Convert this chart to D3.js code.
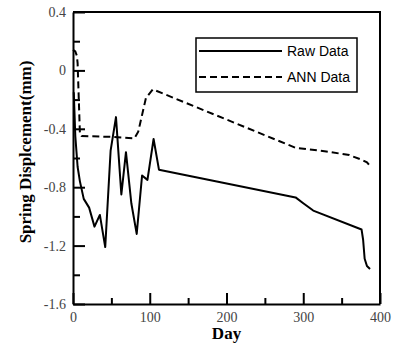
<!DOCTYPE html>
<html><head><meta charset="utf-8">
<script src="https://cdn.jsdelivr.net/npm/d3@7"></script>
<style>body{margin:0;background:#fff}svg{display:block}</style>
</head><body>
<svg id="c" width="397" height="349"></svg>
<script>
const rawDay = [1,3,6,9,14,21,28,35,42,49,56,63,69,76,83,90,97,105,112,290,300,313,376,378,380,383,387];
const rawVal = [-0.15,-0.45,-0.66,-0.76,-0.88,-0.94,-1.07,-0.99,-1.21,-0.55,-0.32,-0.85,-0.56,-0.91,-1.12,-0.72,-0.75,-0.47,-0.68,-0.87,-0.91,-0.96,-1.09,-1.16,-1.29,-1.34,-1.36];
const annDay = [0,3,5,6,9,11,50,80,85,95,104,290,330,360,375,383,387];
const annVal = [0.14,0.13,0.10,0.05,-0.43,-0.45,-0.455,-0.465,-0.42,-0.19,-0.13,-0.53,-0.555,-0.58,-0.61,-0.63,-0.655];
const xMajor = [0,100,200,300,400];
const xMinor = [50,150,250,350];
const yMajor = [0.4,0,-0.4,-0.8,-1.2,-1.6];
const yMinor = [0.2,-0.2,-0.6,-1.0,-1.4];
const yLabels = ["0.4","0","-0.4","-0.8","-1.2","-1.6"];
const seriesNames = ["Raw Data","ANN Data"];

const svg = d3.select("#c");
const L = 73, R = 380, T = 12, B = 304;
const x = d3.scaleLinear().domain([0,400]).range([L,R]);
const y = d3.scaleLinear().domain([-1.6,0.4]).range([B,T]);

// box (top/right)
svg.append("path").attr("d",`M${L},${T}H${R}V${B}`).attr("fill","none").attr("stroke","#000").attr("stroke-width",2);

const tickFont = g => g.selectAll("text").attr("font-family","'Liberation Serif','Times New Roman',serif").attr("font-size",14).attr("fill","#444");

// x axis
const gx = svg.append("g").attr("transform",`translate(0,${B})`)
  .call(d3.axisBottom(x).tickValues(xMajor).tickSize(-11).tickSizeOuter(0).tickPadding(8).tickFormat(d=>String(d)));
gx.call(tickFont);
gx.selectAll("text").attr("dy","0.71em").attr("y",8);
svg.append("g").attr("transform",`translate(0,${B})`)
  .call(d3.axisBottom(x).tickValues(xMinor).tickSize(-6).tickSizeOuter(0).tickFormat(""))
  .call(g=>g.select(".domain").remove());

// y axis
const gy = svg.append("g").attr("transform",`translate(${L},0)`)
  .call(d3.axisLeft(y).tickValues(yMajor).tickSize(-12).tickSizeOuter(0).tickPadding(7).tickFormat((d,i)=>yLabels[i]));
gy.call(tickFont);
svg.append("g").attr("transform",`translate(${L},0)`)
  .call(d3.axisLeft(y).tickValues(yMinor).tickSize(-7).tickSizeOuter(0).tickFormat(""))
  .call(g=>g.select(".domain").remove());

svg.selectAll(".domain, .tick line").attr("stroke","#000").attr("stroke-width",2);

// lines
const line = d3.line().x(d=>x(d[0])).y(d=>y(d[1]));
const raw = rawDay.map((d,i)=>[d,rawVal[i]]);
const ann = annDay.map((d,i)=>[d,annVal[i]]);
svg.append("path").datum(ann).attr("d",line).attr("fill","none").attr("stroke","#000").attr("stroke-width",2).attr("stroke-dasharray","7,4");
svg.append("path").datum(raw).attr("d",line).attr("fill","none").attr("stroke","#000").attr("stroke-width",2).attr("stroke-linejoin","round");

// legend
const lg = svg.append("g");
lg.append("rect").attr("x",196).attr("y",38).attr("width",161).attr("height",54).attr("fill","#fff").attr("stroke","#000").attr("stroke-width",1.5);
lg.append("line").attr("x1",199).attr("x2",282).attr("y1",51).attr("y2",51).attr("stroke","#000").attr("stroke-width",2);
lg.append("line").attr("x1",199).attr("x2",282).attr("y1",77).attr("y2",77).attr("stroke","#000").attr("stroke-width",2).attr("stroke-dasharray","7,4");
lg.selectAll("text.l").data(seriesNames).join("text").attr("class","l")
  .attr("x",287).attr("y",(d,i)=>56+i*26).text(d=>d)
  .attr("font-family","'Liberation Sans',Arial,sans-serif").attr("font-size",14).attr("fill","#000");

// titles
svg.append("text").attr("x",(L+R)/2).attr("y",339).attr("text-anchor","middle").text("Day")
  .attr("font-family","'Liberation Serif','Times New Roman',serif").attr("font-weight","bold").attr("font-size",17);
svg.append("text").attr("transform","translate(31,152) rotate(-90)").attr("text-anchor","middle").text("Spring Displcement(mm)")
  .attr("font-family","'Liberation Serif','Times New Roman',serif").attr("font-weight","bold").attr("font-size",17);
</script>
</body></html>
